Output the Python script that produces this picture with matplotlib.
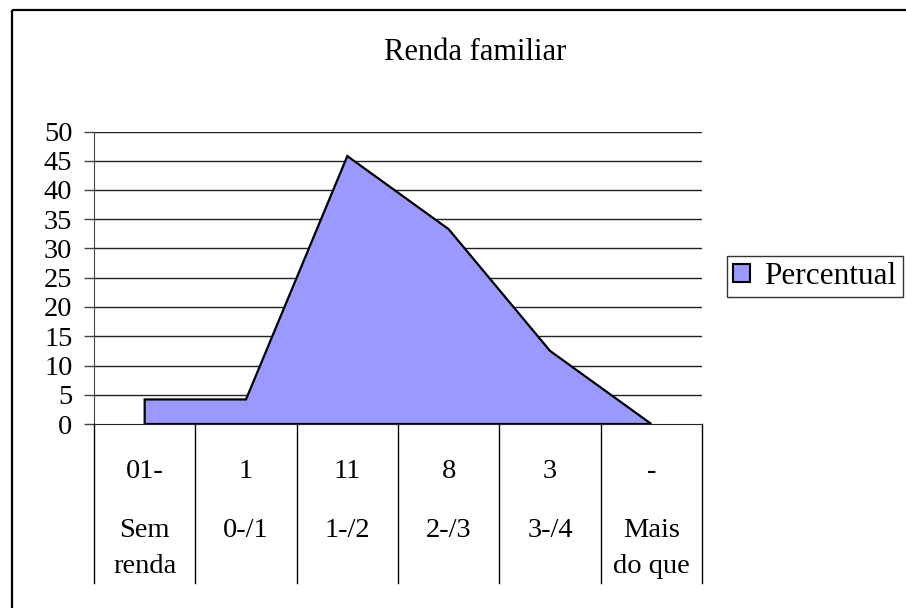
import matplotlib
matplotlib.use('Agg')
import matplotlib.pyplot as plt
import matplotlib.transforms as mtransforms
from matplotlib.patches import Patch, Rectangle

plt.rcParams['font.family'] = ['Liberation Serif', 'DejaVu Serif']

# data
title = 'Renda familiar'
series_name = 'Percentual'
percentual = [4.2, 4.2, 45.8, 33.3, 12.5, 0.0]
count_labels = ['01-', '1', '11', '8', '3', '-']
range_labels = ['Sem\nrenda', '0-/1', '1-/2', '2-/3', '3-/4', 'Mais\ndo que']
y_ticks = list(range(0, 55, 5))

FS = 20.5
W, H = 906, 608

fig = plt.figure(figsize=(W / 100, H / 100), dpi=100)
ax = fig.add_axes([94 / W, 1 - 424 / H, (702 - 94) / W, (424 - 131.5) / H])

x = list(range(len(percentual)))

# area with outline (vertical edge at the first point, like Excel)
poly_x = [x[0]] + x + [x[-1]]
poly_y = [0] + percentual + [0]
ax.fill(poly_x, poly_y, facecolor='#9999FF', edgecolor='black', linewidth=1.6, zorder=3)

ax.set_xlim(-0.5, len(percentual) - 0.5)
ax.set_ylim(0, 50)
ax.set_yticks(y_ticks)
ax.set_yticklabels([str(v) for v in y_ticks], fontsize=FS)
ax.tick_params(axis='y', direction='out', length=7, width=1, pad=8.5, color='#444444')
ax.set_xticks([])

for v in y_ticks[1:]:
    ax.axhline(v, color='#222222', linewidth=1, zorder=1)

for side in ['top', 'right']:
    ax.spines[side].set_visible(False)
ax.spines['left'].set_color('#444444')
ax.spines['bottom'].set_color('#222222')
ax.spines['bottom'].set_zorder(4)

# multi-level category axis
trans = mtransforms.blended_transform_factory(ax.transData, ax.transAxes)
for b in [i - 0.5 for i in range(len(percentual) + 1)]:
    ax.plot([b, b], [0, -0.545], color='black', linewidth=1, transform=trans, clip_on=False)

for i, (c, r) in enumerate(zip(count_labels, range_labels)):
    ax.text(i, -0.184, c, transform=trans, ha='center', va='baseline', fontsize=FS)
    for j, line in enumerate(r.split('\n')):
        ax.text(i, -0.386 - 0.123 * j, line, transform=trans, ha='center', va='baseline', fontsize=FS)

fig.text(475 / W, 1 - 60 / H, title, ha='center', va='baseline', fontsize=22)

leg = fig.legend(handles=[Patch(facecolor='#9999FF', edgecolor='black', linewidth=1.5, label=series_name)],
                 loc='center left', bbox_to_anchor=(727 / W, 1 - 276.5 / H),
                 fontsize=22.5, frameon=True, fancybox=False, borderaxespad=0,
                 handlelength=0.55, handleheight=0.55, handletextpad=0.45, borderpad=0.2)
leg.get_frame().set_edgecolor('black')
leg.get_frame().set_linewidth(1)

fig.add_artist(Rectangle((12 / W, 1 - 10 / H), (W + 20) / W, -(H + 20) / H,
                         transform=fig.transFigure, fill=False, edgecolor='black', linewidth=1.6))

fig.savefig('out.png', dpi=100)
